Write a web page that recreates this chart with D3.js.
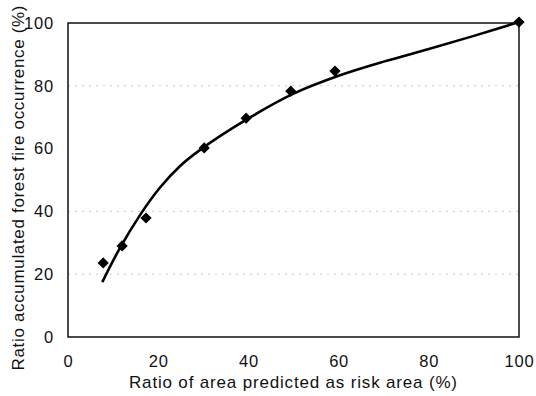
<!DOCTYPE html>
<html>
<head>
<meta charset="utf-8">
<script src="https://cdn.jsdelivr.net/npm/d3@7"></script>
<style>
  body { margin: 0; background: #fff; }
  svg text { font-family: "Liberation Sans", Arial, sans-serif; fill: #111; }
</style>
</head>
<body>
<svg width="536" height="396"></svg>
<script>
// observed points (diamonds)
var obsX = [7.8, 12, 17.3, 30.2, 39.5, 49.4, 59.2, 100]
var obsY = [23.6, 29, 37.9, 60.2, 69.7, 78.3, 84.7, 100.3]

// fitted curve
var fitX = [7.6, 11.5, 16, 20.4, 24.8, 29.3, 40, 50, 60, 70, 80, 90, 100]
var fitY = [17.5, 28.3, 38.9, 47.6, 54.4, 59.6, 69.6, 77.5, 83.2, 87.7, 91.7, 95.9, 100.3]

var xTicks = [0, 20, 40, 60, 80, 100]
var yTicks = [0, 20, 40, 60, 80, 100]
var gridY = [20, 40, 80]

var width = 536
var height = 396
var margin = ({top: 23, right: 17, bottom: 59, left: 68})

var x = d3.scaleLinear()
  .domain([0, 100])
  .range([margin.left, width - margin.right])

var y = d3.scaleLinear()
  .domain([0, 100])
  .range([height - margin.bottom, margin.top])

var svg = d3.select('svg')

// faint grid lines
svg.append("g")
  .selectAll("line")
  .data(gridY)
  .join("line")
  .attr("x1", x(0))
  .attr("x2", x(100))
  .attr("y1", d => y(d))
  .attr("y2", d => y(d))
  .attr("stroke", "#c8c8c8")
  .attr("stroke-width", 1)
  .attr("stroke-dasharray", "2,5")

// frame
svg.append("rect")
  .attr("x", x(0))
  .attr("y", y(100))
  .attr("width", x(100) - x(0))
  .attr("height", y(0) - y(100))
  .attr("fill", "none")
  .attr("stroke", "#111")
  .attr("stroke-width", 1.5)

var xAxis = g => g
  .attr("transform", `translate(0,${y(0)})`)
  .call(d3.axisBottom(x).tickValues(xTicks).tickSize(0).tickPadding(18))

var yAxis = g => g
  .attr("transform", `translate(${x(0)},0)`)
  .call(d3.axisLeft(y).tickValues(yTicks).tickSize(0).tickPadding(14))

svg.append("g").call(xAxis)
svg.append("g").call(yAxis)

svg.selectAll(".tick text")
  .attr("font-size", 16.5)
  .attr("letter-spacing", 0.8)
svg.selectAll(".domain").remove()

// fitted curve
var line = d3.line()
  .x((d, i) => x(fitX[i]))
  .y(d => y(d))
  .curve(d3.curveCatmullRom)

svg.append("path")
  .datum(fitY)
  .attr("d", line)
  .attr("fill", "none")
  .attr("stroke", "#000")
  .attr("stroke-width", 2.6)

// diamonds
svg.append("g")
  .selectAll("path")
  .data(obsY)
  .join("path")
  .attr("transform", (d, i) => `translate(${x(obsX[i])},${y(d)})`)
  .attr("d", d3.symbol(d3.symbolDiamond2, 80))
  .attr("fill", "#000")

// axis titles
svg.append("text")
  .attr("x", 293)
  .attr("y", 388)
  .attr("text-anchor", "middle")
  .attr("font-size", 17)
  .attr("textLength", 328)
  .text("Ratio of area predicted as risk area (%)")

svg.append("text")
  .attr("transform", "translate(24,188) rotate(-90)")
  .attr("text-anchor", "middle")
  .attr("font-size", 17)
  .attr("textLength", 365)
  .text("Ratio accumulated forest fire occurrence (%)")
</script>
</body>
</html>
